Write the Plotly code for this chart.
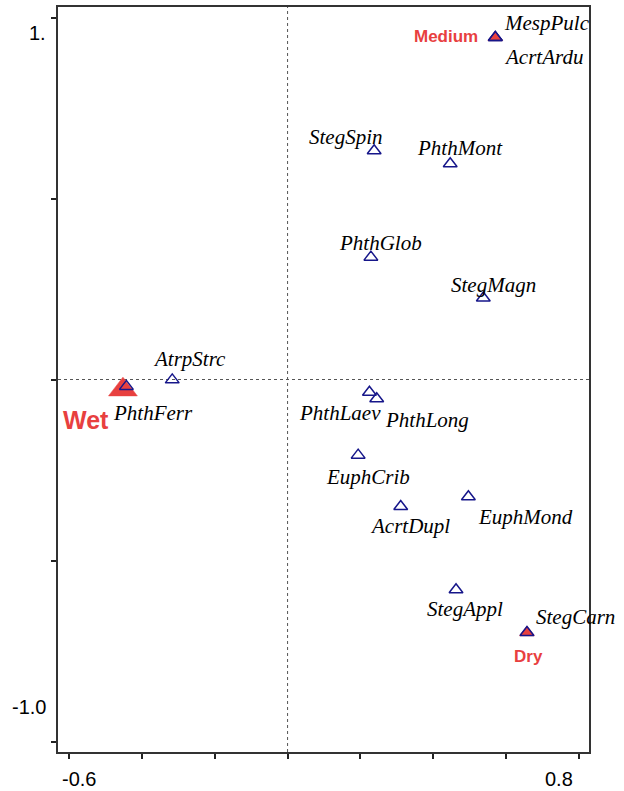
import plotly.graph_objects as go

# ---------------- data ----------------
species = ["MespPulc", "AcrtArdu", "StegSpin", "PhthMont", "PhthGlob", "StegMagn",
           "AtrpStrc", "PhthFerr", "PhthLaev", "PhthLong", "EuphCrib", "AcrtDupl",
           "EuphMond", "StegAppl", "StegCarn"]
sp_x = [0.571, 0.571, 0.238, 0.447, 0.229, 0.538,
        -0.317, -0.443, 0.225, 0.245, 0.194, 0.311,
        0.497, 0.463, 0.658]
sp_y = [0.945, 0.945, 0.632, 0.596, 0.338, 0.225,
        -0.001, -0.019, -0.035, -0.053, -0.209, -0.351,
        -0.324, -0.581, -0.699]

env_names = ["Medium", "Wet", "Dry"]
env_x = [0.571, -0.4525, 0.658]
env_y = [0.945, -0.028, -0.699]

x_ticks = [-0.6, -0.4, -0.2, 0.0, 0.2, 0.4, 0.6, 0.8]
y_ticks = [-1.0, -0.5, 0.0, 0.5, 1.0]
x_tick_labels = {-0.6: "-0.6", 0.8: "0.8"}
y_tick_labels = {1.0: "1.", -1.0: "-1.0"}

# ---------------- styling / label placement (pixels) ----------------
RED = "#E8403F"
NAVY = "#16168A"
sp_label_offsets = [(52, -14), (48, 19.5), (-28.5, -14), (9.5, -15.6), (9.5, -14), (10, -13),
                    (17, -20.7), (26.6, 26.2), (-29.8, 20.4), (50, 21.3), (9.7, 22), (9, 19.4),
                    (56.7, 20.7), (9.3, 19.6), (48.8, -15.8)]
env_label_offsets = [(-49, -0.5), (-37, 30), (2, 24.2)]
env_sizes = [13, 25, 13]
env_font_sizes = [17, 25, 17]
x_label_shift = {-0.6: 10, 0.8: -20}
y_label_shift = {1.0: -15, -1.0: 34.5}

fig = go.Figure()

# environmental (nominal) variables: filled red triangles
fig.add_trace(go.Scatter(
    x=env_x, y=env_y, mode="markers", opacity=1,
    marker=dict(symbol="triangle-up", size=env_sizes, color=RED, opacity=1,
                line=dict(width=0.5, color=RED)),
    hoverinfo="text", text=env_names, showlegend=False, cliponaxis=False))

# species: open navy triangles
fig.add_trace(go.Scatter(
    x=sp_x, y=sp_y, mode="markers", opacity=1,
    marker=dict(symbol="triangle-up-open", size=12, color=NAVY, line=dict(width=1.5, color=NAVY)),
    hoverinfo="text", text=species, showlegend=False, cliponaxis=False))

annotations = []
for name, x, y, (dx, dy) in zip(species, sp_x, sp_y, sp_label_offsets):
    annotations.append(dict(
        x=x, y=y, xref="x", yref="y", text="<i>" + name + "</i>", showarrow=False,
        xanchor="center", yanchor="middle", xshift=dx, yshift=-dy,
        font=dict(family="Liberation Serif, Times New Roman, serif", size=21, color="black")))

for name, x, y, (dx, dy), fs in zip(env_names, env_x, env_y, env_label_offsets, env_font_sizes):
    annotations.append(dict(
        x=x, y=y, xref="x", yref="y", text="<b>" + name + "</b>", showarrow=False,
        xanchor="center", yanchor="middle", xshift=dx, yshift=-dy,
        font=dict(family="Liberation Sans, Arial, sans-serif", size=fs, color=RED)))

# tick labels (offset from their ticks, as in the reference)
for v, lab in x_tick_labels.items():
    annotations.append(dict(
        x=v, y=0, xref="x", yref="paper", text=lab, showarrow=False,
        xanchor="center", yanchor="middle", xshift=x_label_shift[v], yshift=-26.5,
        font=dict(family="Liberation Sans, Arial, sans-serif", size=20, color="black")))
for v, lab in y_tick_labels.items():
    annotations.append(dict(
        x=0, y=v, xref="paper", yref="y", text=lab, showarrow=False,
        xanchor="right", yanchor="middle", xshift=-10, yshift=y_label_shift[v],
        font=dict(family="Liberation Sans, Arial, sans-serif", size=20, color="black")))

shapes = [
    dict(type="line", xref="x", yref="paper", x0=0, x1=0, y0=0, y1=1,
         line=dict(color="#555555", width=1, dash="dot"), layer="below"),
    dict(type="line", xref="paper", yref="y", x0=0, x1=1, y0=0, y1=0,
         line=dict(color="#555555", width=1, dash="dot"), layer="below"),
]

fig.update_xaxes(range=[-0.631, 0.8285], tickvals=x_ticks, showticklabels=False,
                 ticks="outside", ticklen=5, tickwidth=1.5, tickcolor="#222222",
                 showline=True, linecolor="#333333", linewidth=2, mirror=True,
                 showgrid=False, zeroline=False)
fig.update_yaxes(range=[-1.029, 1.029], tickvals=y_ticks, showticklabels=False,
                 ticks="outside", ticklen=5, tickwidth=1.5, tickcolor="#222222",
                 showline=True, linecolor="#333333", linewidth=2, mirror=True,
                 showgrid=False, zeroline=False)

fig.update_layout(
    width=624, height=791,
    margin=dict(l=58, r=35, t=5, b=39),
    plot_bgcolor="white", paper_bgcolor="white",
    annotations=annotations, shapes=shapes, showlegend=False,
)

fig.write_html("out.html", config={"displayModeBar": False},
               post_script="document.body.style.margin='0';document.body.style.overflow='hidden';")
